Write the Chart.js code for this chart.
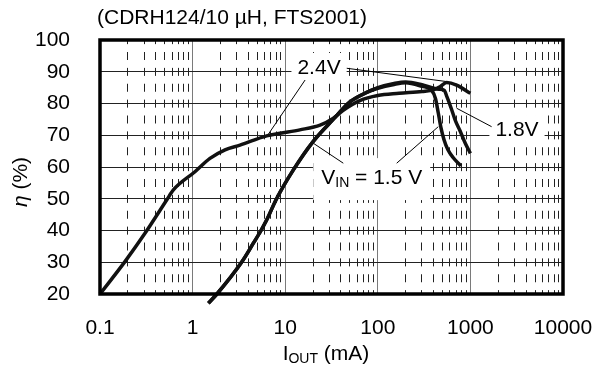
<!DOCTYPE html>
<html>
<head>
<meta charset="utf-8">
<script src="https://cdn.jsdelivr.net/npm/chart.js@4.4.1/dist/chart.umd.min.js"></script>
<style>
  body { margin: 0; background: #fff; }
  #wrap { width: 606px; height: 372px; }
</style>
</head>
<body>
<div id="wrap"><canvas id="effChart" width="606" height="372"></canvas></div>
<script>
// tick labels
const decadeTicks = [0.1, 1, 10, 100, 1000, 10000];
const minorSteps = [2, 3, 4, 5, 6, 7, 8, 9];
const effTicks = [20, 30, 40, 50, 60, 70, 80, 90, 100];

// VIN = 2.4 V
const iout24 = [0.1, 0.186, 0.306, 0.525, 0.62, 1.06, 1.54, 2.24, 3.25, 6.3, 8.8, 14.4, 23.8, 32.8, 42, 64, 100, 170, 300, 400, 470, 553, 709, 1000];
const eff24 = [20, 30.2, 39.1, 49.6, 52.8, 58.5, 62.7, 65.4, 66.9, 69.8, 70.6, 71.7, 73.2, 75.3, 77.8, 80.9, 82.5, 83.2, 83.8, 84.3, 85.3, 86.6, 85.8, 83.2];

// VIN = 1.8 V
const iout18 = [1.48, 1.83, 3.38, 4.53, 5.48, 6.3, 8.07, 12.2, 20, 33, 50, 76, 100, 150, 200, 300, 400, 460, 520, 560, 620, 690, 770, 880, 1000];
const eff18 = [17.1, 20, 30, 36, 40, 43.3, 50, 59, 68, 75, 80.5, 83.5, 85, 86.3, 86.8, 85.9, 84.8, 84.5, 84.2, 82, 78.5, 74.5, 71.5, 67.5, 64.3];

// VIN = 1.5 V
const iout15 = [1.48, 1.83, 3.38, 4.53, 5.48, 6.3, 8.07, 12.2, 20, 33, 50, 76, 100, 150, 200, 300, 380, 420, 450, 480, 520, 570, 650, 790];
const eff15 = [17.1, 20, 30, 36, 40, 43.3, 50, 59, 68, 75, 80.5, 83.5, 84.8, 86, 86.5, 85.4, 84.2, 81.5, 77, 72.5, 68.5, 65.5, 63, 60.3];

const FONT = "'Liberation Sans', Arial, sans-serif";

function toPoints(xs, ys) {
    return xs.map((x, i) => ({ x: x, y: ys[i] }));
}

function isDecade(v) {
    return decadeTicks.some(d => Math.abs(d - v) / d < 1e-6);
}

function curve(label, xs, ys) {
    return {
        label: label,
        data: toPoints(xs, ys),
        borderColor: "#111",
        borderWidth: 3.5,
        pointRadius: 0,
        fill: false,
        cubicInterpolationMode: "monotone",
        clip: { left: 2, top: 2, right: 2, bottom: 12 }
    };
}

// labels with white boxes and pointer lines, placed in data coordinates
const notes = {
    id: "notes",
    beforeDatasetsDraw(chart) {
        const ctx = chart.ctx;
        const xs = chart.scales.x, ys = chart.scales.y;
        const px = v => xs.getPixelForValue(v);
        const py = v => ys.getPixelForValue(v);

        function box(cx, cy, w, h) {
            ctx.fillStyle = "#fff";
            ctx.fillRect(cx - w / 2, cy - h / 2, w, h);
        }
        function line(x1, y1, x2, y2) {
            ctx.beginPath();
            ctx.moveTo(px(x1), py(y1));
            ctx.lineTo(px(x2), py(y2));
            ctx.stroke();
        }

        ctx.save();
        ctx.font = "21px " + FONT;
        ctx.textBaseline = "middle";
        ctx.textAlign = "center";

        // 2.4V
        let cx = px(23.2), cy = py(91.2);
        let w = ctx.measureText("2.4V").width;
        box(cx, cy, w + 12, 30);
        ctx.fillStyle = "#000";
        ctx.fillText("2.4V", cx, cy);

        // 1.8V
        cx = px(3185); cy = py(71.65);
        w = ctx.measureText("1.8V").width;
        box(cx, cy, w + 12, 30);
        ctx.fillStyle = "#000";
        ctx.fillText("1.8V", cx, cy);

        // VIN = 1.5 V
        cx = px(86); cy = py(56.5);
        ctx.textAlign = "left";
        const wV = ctx.measureText("V").width;
        ctx.font = "14px " + FONT;
        const wIn = ctx.measureText("IN").width;
        ctx.font = "21px " + FONT;
        const wRest = ctx.measureText(" = 1.5 V").width;
        const total = wV + wIn + wRest;
        box(cx, cy + 1, total + 16, 42);
        let x0 = cx - total / 2;
        ctx.fillStyle = "#000";
        ctx.fillText("V", x0, cy);
        ctx.font = "14px " + FONT;
        ctx.fillText("IN", x0 + wV, cy + 5);
        ctx.font = "21px " + FONT;
        ctx.fillText(" = 1.5 V", x0 + wV + wIn, cy);

        // pointers
        ctx.strokeStyle = "#000";
        ctx.lineWidth = 1;
        line(16.4, 87.4, 6.5, 70.1);
        line(46.2, 91.1, 555, 86.9);
        line(1694, 72.7, 711, 78.5);
        line(42.4, 61.2, 20.1, 67.5);
        line(160, 61.2, 450, 72.7);
        ctx.restore();
    },
    afterDraw(chart) {
        const ctx = chart.ctx;
        const a = chart.chartArea;
        ctx.save();
        // frame
        ctx.strokeStyle = "#000";
        ctx.lineWidth = 3.5;
        ctx.strokeRect(a.left, a.top, a.right - a.left, a.bottom - a.top);

        ctx.fillStyle = "#000";
        // title
        ctx.font = "21px " + FONT;
        ctx.textAlign = "left";
        ctx.textBaseline = "middle";
        ctx.fillText("(CDRH124/10 \u00b5H, FTS2001)", 97, 18);

        // x title
        const midX = 326;
        const wI = ctx.measureText("I").width;
        ctx.font = "14px " + FONT;
        const wOut = ctx.measureText("OUT").width;
        ctx.font = "21px " + FONT;
        const wMa = ctx.measureText(" (mA)").width;
        let x0 = midX - (wI + wOut + wMa) / 2;
        ctx.fillText("I", x0, 354);
        ctx.font = "14px " + FONT;
        ctx.fillText("OUT", x0 + wI, 359);
        ctx.font = "21px " + FONT;
        ctx.fillText(" (mA)", x0 + wI + wOut, 354);

        // y title
        ctx.translate(21, (a.top + a.bottom) / 2 + 15);
        ctx.rotate(-Math.PI / 2);
        ctx.font = "italic 21px " + FONT;
        const wEta = ctx.measureText("\u03b7").width;
        ctx.font = "21px " + FONT;
        const wPct = ctx.measureText(" (%)").width;
        const start = -(wEta + wPct) / 2;
        ctx.textAlign = "left";
        ctx.font = "italic 21px " + FONT;
        ctx.fillText("\u03b7", start, 0);
        ctx.font = "21px " + FONT;
        ctx.fillText(" (%)", start + wEta, 0);
        ctx.restore();
    }
};

new Chart(document.getElementById("effChart"), {
    type: "line",
    data: {
        datasets: [
            curve("2.4V", iout24, eff24),
            curve("1.8V", iout18, eff18),
            curve("1.5V", iout15, eff15)
        ]
    },
    options: {
        responsive: false,
        animation: false,
        devicePixelRatio: 1,
        layout: { padding: { top: 40, right: 43, left: 0, bottom: 0 } },
        plugins: {
            legend: { display: false },
            tooltip: { enabled: false }
        },
        scales: {
            x: {
                type: "logarithmic",
                min: 0.1,
                max: 10000,
                afterBuildTicks(scale) {
                    const ticks = [];
                    decadeTicks.forEach(d => {
                        ticks.push({ value: d });
                        if (d < 10000) {
                            minorSteps.forEach(m => ticks.push({ value: m * d }));
                        }
                    });
                    scale.ticks = ticks;
                },
                afterFit(scale) {
                    scale.height = 78;
                    scale.paddingLeft = 0;
                    scale.paddingRight = 0;
                },
                ticks: {
                    autoSkip: false,
                    maxRotation: 0,
                    padding: 22,
                    color: "#000",
                    font: { family: FONT, size: 21 },
                    callback: v => isDecade(v) ? String(v) : ""
                },
                grid: {
                    drawTicks: false,
                    lineWidth: 1,
                    color: c => isDecade(c.tick.value) ? "#7a7a7a" : "#222"
                },
                border: {
                    display: false,
                    dash: c => isDecade(c.tick.value) ? [] : [8, 7.875],
                    dashOffset: -12
                }
            },
            y: {
                min: 20,
                max: 100,
                afterBuildTicks(scale) {
                    scale.ticks = effTicks.map(v => ({ value: v }));
                },
                afterFit(scale) {
                    scale.width = 100;
                    scale.paddingTop = 0;
                    scale.paddingBottom = 0;
                },
                ticks: {
                    padding: 30,
                    color: "#000",
                    font: { family: FONT, size: 21 }
                },
                grid: {
                    drawTicks: false,
                    lineWidth: 1,
                    color: "#222"
                },
                border: { display: false }
            }
        }
    },
    plugins: [notes]
});
</script>
</body>
</html>
